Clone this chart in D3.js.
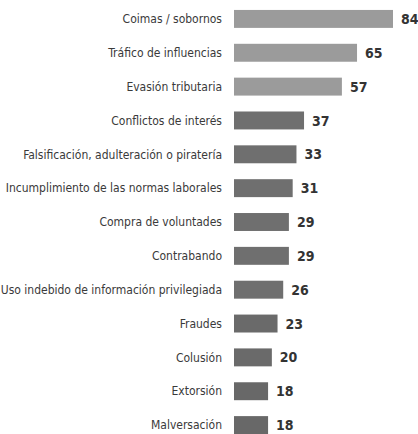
<!DOCTYPE html>
<html><head><meta charset="utf-8">
<script src="https://cdn.jsdelivr.net/npm/d3@7"></script>
<style>
html,body{margin:0;padding:0;background:#fff;}
svg{display:block;}
</style></head>
<body><svg id="c" width="418" height="434"></svg>
<script>
const categories = ["Coimas / sobornos","Tráfico de influencias","Evasión tributaria","Conflictos de interés","Falsificación, adulteración o piratería","Incumplimiento de las normas laborales","Compra de voluntades","Contrabando","Uso indebido de información privilegiada","Fraudes","Colusión","Extorsión","Malversación"];
const values = [84,65,57,37,33,31,29,29,26,23,20,18,18];

const barColors = ["#9b9b9b","#9b9b9b","#9b9b9b","#6f6f6f","#6f6f6f","#6f6f6f","#6f6f6f","#6f6f6f","#6f6f6f","#6a6a6a","#6a6a6a","#686868","#686868"];

const svg = d3.select("#c");
const x0 = 234;
const x = d3.scaleLinear().domain([0,84]).range([x0, 393]);
const y = d3.scaleBand().domain(categories).range([2, 442]).paddingInner(0.47).paddingOuter(0.235);

const g = svg.append("g");
g.selectAll("rect").data(values).join("rect")
  .attr("x", x(0))
  .attr("y", (d,i)=>y(categories[i]))
  .attr("width", d=>x(d)-x(0))
  .attr("height", y.bandwidth())
  .attr("fill", (d,i)=>barColors[i]);

g.selectAll("text.lab").data(categories).join("text")
  .attr("class","lab")
  .attr("x", 222)
  .attr("y", d=>y(d)+y.bandwidth()/2)
  .attr("dy","0.35em")
  .attr("text-anchor","end")
  .attr("font-family","'Liberation Sans Narrow','DejaVu Sans Condensed','Roboto Condensed',sans-serif")
  .attr("font-stretch","condensed")
  .attr("font-size","12px")
  .attr("fill","#3a3a3a")
  .text(d=>d);

g.selectAll("text.val").data(values).join("text")
  .attr("class","val")
  .attr("x", d=>x(d)+8)
  .attr("y", (d,i)=>y(categories[i])+y.bandwidth()/2)
  .attr("dy","0.36em")
  .attr("font-family","'Liberation Sans Narrow','DejaVu Sans Condensed',sans-serif")
  .attr("font-weight","bold")
  .attr("font-size","14px")
  .attr("fill","#333")
  .text(d=>d);
</script></body></html>
